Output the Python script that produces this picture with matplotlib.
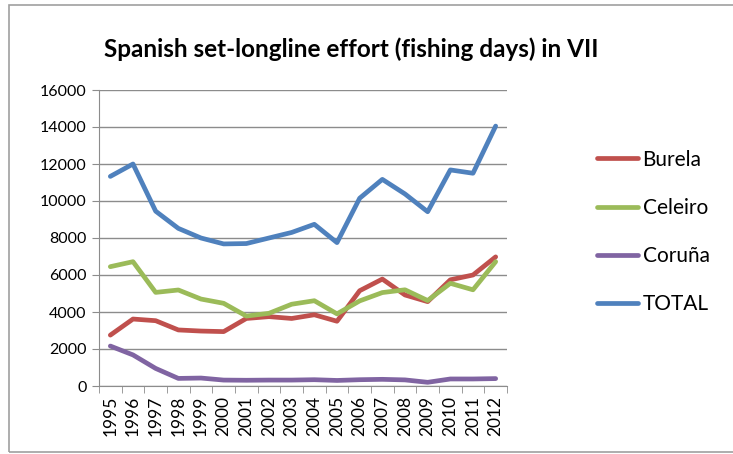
import matplotlib.pyplot as plt
from matplotlib.patches import Rectangle

plt.rcParams['font.family'] = ['Lato', 'DejaVu Sans']

years = [str(y) for y in range(1995, 2013)]
burela = [2750, 3620, 3530, 3030, 2970, 2940, 3650, 3750, 3650, 3850, 3500,
          5150, 5780, 4920, 4560, 5740, 6000, 6980]
celeiro = [6450, 6720, 5060, 5190, 4700, 4470, 3780, 3930, 4420, 4610, 3900,
           4600, 5050, 5200, 4620, 5550, 5200, 6720]
coruna = [2160, 1680, 950, 410, 430, 320, 310, 320, 320, 340, 300,
          340, 360, 330, 200, 380, 380, 400]
total = [11330, 12000, 9450, 8520, 8000, 7680, 7700, 8000, 8300, 8740, 7750,
         10150, 11170, 10380, 9420, 11680, 11500, 14050]

series = [('Burela', burela, '#C0504D'),
          ('Celeiro', celeiro, '#9BBB59'),
          ('Coruña', coruna, '#8064A2'),
          ('TOTAL', total, '#4F81BD')]

fig = plt.figure(figsize=(7.33, 4.54), dpi=100)
W, H = 733, 454
ax = fig.add_axes([99 / W, 1 - 386 / H, 408 / W, 296 / H])

x = list(range(len(years)))
for name, vals, col in series:
    ax.plot(x, vals, color=col, lw=3.4, label=name, solid_capstyle='round')

ax.set_xlim(-0.5, len(years) - 0.5)
ax.set_ylim(0, 16000)
ax.set_yticks(range(0, 16001, 2000))
ax.set_yticklabels([str(v) for v in range(0, 16001, 2000)], fontsize=11.5)
ax.grid(axis='y', color='#8c8c8c', lw=1)
ax.set_axisbelow(True)

ax.set_xticks(x)
ax.set_xticklabels(years, rotation=90, fontsize=12.5)
ax.tick_params(axis='x', length=0, pad=7)
ax.set_xticks([i - 0.5 for i in range(len(years) + 1)], minor=True)
ax.tick_params(axis='x', which='minor', length=5, color='#8c8c8c')
ax.tick_params(axis='y', length=5, color='#8c8c8c', pad=4)

for s in ['top', 'right']:
    ax.spines[s].set_visible(False)
for s in ['left', 'bottom']:
    ax.spines[s].set_color('#8c8c8c')

fig.text(351 / W, 1 - 49 / H, 'Spanish set-longline effort (fishing days) in VII',
         ha='center', va='center', fontsize=17.5, fontweight='bold')

ax.legend(loc='upper left', bbox_to_anchor=(578 / W, 1 - 131 / H),
          bbox_transform=fig.transFigure, frameon=False, fontsize=15,
          handlelength=2.0, handletextpad=0.2, labelspacing=1.35)

fig.add_artist(Rectangle((9 / W, 1 - 452 / H), 740 / W, 447 / H,
                         transform=fig.transFigure, fill=False,
                         edgecolor='#a0a0a0', lw=1.2))

fig.savefig('out.png', dpi=100)
